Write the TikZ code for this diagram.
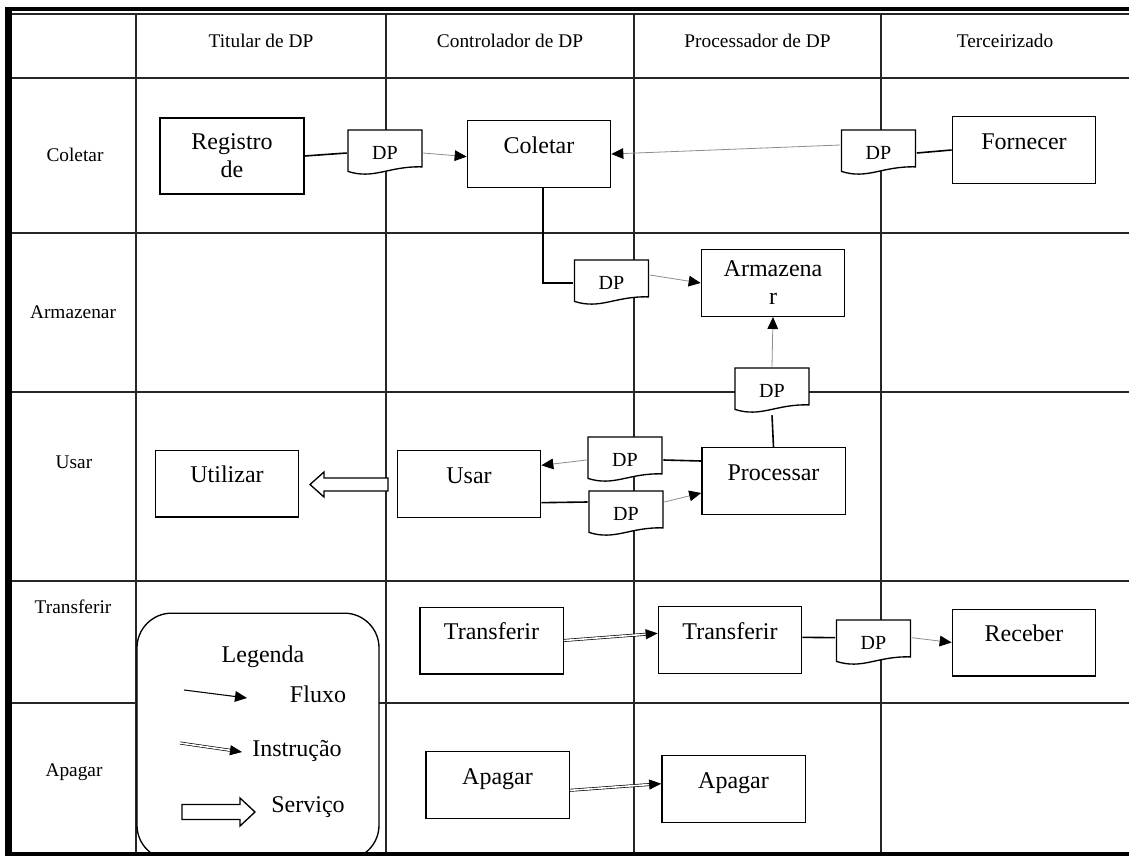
\documentclass[tikz,border=0pt]{standalone}
\usepackage{fontspec}
\setmainfont{Liberation Serif}
\usetikzlibrary{arrows.meta, calc}

\begin{document}
\begin{tikzpicture}[x=0.75pt, y=-0.75pt,
  gridline/.style={line width=0.9pt, black!85},
  box/.style={draw, line width=1pt, minimum width=107.5pt, minimum height=50pt, inner sep=0pt,
    font=\fontsize{18}{20}\selectfont, text height=13pt, text depth=14.5pt},
  twobox/.style={draw, line width=1pt, minimum width=107.5pt, minimum height=50pt, inner sep=0pt,
    align=center, font=\fontsize{18}{21}\selectfont},
  lbl/.style={font=\fontsize{14.5}{17}\selectfont},
  dpdoc/.style={minimum width=57pt, minimum height=36pt, inner sep=0pt, font=\fontsize{15}{17}\selectfont,
    path picture={
      \draw[line width=1pt, fill=white]
        ([shift={(0.7pt,-0.7pt)}]path picture bounding box.north west)
        -- ([shift={(-0.7pt,-0.7pt)}]path picture bounding box.north east)
        -- ([shift={(-0.7pt,-28.4pt)}]path picture bounding box.north east)
        .. controls ([shift={(31.3pt,-27.7pt)}]path picture bounding box.north west)
           and ([shift={(20.2pt,-38.1pt)}]path picture bounding box.north west)
        .. ([shift={(0.7pt,-31.8pt)}]path picture bounding box.north west) -- cycle;
    }},
  link/.style={line width=1.2pt},
  flow/.style={draw=black!45, line width=0.6pt, -{Triangle[black, length=9pt, width=8pt]}},
  instr/.style={double, double distance=1.2pt, line width=0.5pt, -{Triangle[length=9pt, width=7.5pt]}},
  service/.style={draw, line width=1pt, fill=white},
  legendbox/.style={draw, line width=1pt, fill=white, rounded corners=26pt,
    minimum width=181.5pt, minimum height=185pt},
]
\useasboundingbox (0,0) rectangle (1129,856);

\foreach \y in {14,78,233,392,581,703}
  \draw[gridline] (12,\y) -- (1129,\y);
\foreach \x in {136,386,634,881}
  \draw[gridline] (\x,14) -- (\x,852);

\node[lbl] (hd1) at (261,41) {Titular de DP};
\node[lbl] (hd2) at (510,41) {Controlador de DP};
\node[lbl] (hd3) at (757.5,41) {Processador de DP};
\node[lbl] (hd4) at (1005,41) {Terceirizado};

\node[lbl] (rw1) at (75,155) {Coletar};
\node[lbl] (rw2) at (73,312) {Armazenar};
\node[lbl] (rw3) at (74,462) {Usar};
\node[lbl] (rw4) at (73,607) {Transferir};
\node[lbl] (rw5) at (74,772) {Apagar};

\node[legendbox] (legenda) at (258,736.5) {};
\node[font=\fontsize{18}{20}\selectfont] (legtitle) at (263,657) {Legenda};
\node[font=\fontsize{18}{20}\selectfont] (legfluxo) at (318,694) {Fluxo};
\node[font=\fontsize{18}{20}\selectfont] (leginstr) at (297,751) {Instrução};
\node[font=\fontsize{18}{20}\selectfont] (legserv) at (308,807) {Serviço};
\coordinate (fluxoa) at (184,690);
\coordinate (fluxob) at (247,698);
\coordinate (instra) at (180,743);
\coordinate (instrb) at (242,752);
\coordinate (servtip) at (255,812);
\draw[-{Triangle[length=9pt, width=8pt]}, line width=0.8pt] (fluxoa) -- (fluxob);
\draw[instr] (instra) -- (instrb);
\draw[service] (servtip) -- ++(-15,-14) -- ++(0,6.5) -- ++(-58,0) -- ++(0,15) -- ++(58,0) -- ++(0,6.5) -- cycle;

\draw[line width=5.25pt] (8.5,7) -- (8.5,856);
\draw[line width=3pt] (5,9) -- (1129,9);
\draw[line width=3.5pt] (5,854) -- (1129,854);

\node[twobox, minimum width=108pt, minimum height=57pt] (reg) at (232,156) {Registro\\de};
\node[box] (coletar) at (539,154) {Coletar};
\node[box] (fornecer) at (1024,150) {Fornecer};
\node[twobox] (armazenar) at (773,283) {Armazena\\r};
\node[box] (processar) at (773.5,481) {Processar};
\node[box] (usar) at (469,484) {Usar};
\node[box] (utilizar) at (227,483.5) {Utilizar};
\node[box] (transf1) at (491.5,640.5) {Transferir};
\node[box] (transf2) at (730,640) {Transferir};
\node[box] (receber) at (1024,642.5) {Receber};
\node[box] (apagar1) at (497.5,785) {Apagar};
\node[box] (apagar2) at (733.5,789) {Apagar};

\node[dpdoc] (dp1) at (385,153) {DP};
\node[dpdoc] (dpterc) at (878.5,153) {DP};
\node[dpdoc] (dparm) at (611.5,283) {DP};
\node[dpdoc] (dpmid) at (772,391) {DP};
\node[dpdoc] (dpup) at (625,460) {DP};
\node[dpdoc] (dplow) at (626,514) {DP};
\node[dpdoc] (dptr) at (873.5,643) {DP};

\draw[link] (reg.east) -- (dp1.west);
\draw[flow] (dp1.east) -- ([yshift=-2pt]coletar.west);
\draw[link] (fornecer.west) -- (dpterc.east);
\draw[flow] ([yshift=6pt]dpterc.west) -- (coletar.east);
\draw[link] ([xshift=3pt]coletar.south) |- (dparm.west);
\draw[flow] ([yshift=6pt]dparm.east) -- (armazenar.west);
\draw[link] (processar.north) -- (dpmid.south);
\draw[flow] (dpmid.north) -- (armazenar.south);
\draw[link] ([yshift=15pt]processar.west) -- (dpup.east);
\draw[flow] (dpup.west) -- ([yshift=14pt]usar.east);
\draw[link] ([yshift=-14pt]usar.east) -- ([yshift=9pt]dplow.west);
\draw[flow] ([yshift=9pt]dplow.east) -- ([yshift=-9pt]processar.west);
\draw[instr] (transf1.east) -- ([yshift=5pt]transf2.west);
\draw[link] ([yshift=2pt]transf2.east) -- ([yshift=4pt]dptr.west);
\draw[flow] ([yshift=4pt]dptr.east) -- (receber.west);
\draw[instr] ([yshift=-4pt]apagar1.east) -- ([yshift=4pt]apagar2.west);

\coordinate (srvtip) at (310,484.5);
\draw[service] (srvtip) -- ++(14,-12.5) -- ++(0,6) -- ++(64,0) -- ++(0,13) -- ++(-64,0) -- ++(0,6) -- cycle;
\end{tikzpicture}
\end{document}
